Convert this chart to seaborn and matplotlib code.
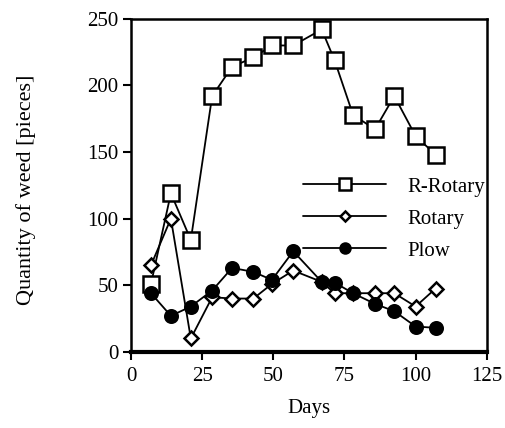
import numpy as np
import pandas as pd
import seaborn as sns
import matplotlib
matplotlib.use("Agg")
import matplotlib.pyplot as plt

# Sampling days and weed counts per tillage method
days = [7, 14, 21, 28.5, 35.5, 43, 49.5, 57, 67, 71.5, 78, 85.7, 92.5, 100, 107]
r_rotary = [51, 119, 84, 192, 214, 221, 230, 230, 242, 219, 178, 167, 192, 162, 148]
rotary = [65, 100, 10, 41, 40, 40, 51, 61, 52.5, 44, 44, 44, 44, 34, 47.5]
plow = [44, 27, 34, 46, 63, 60, 54, 75.5, 52.5, 52, 44, 36, 30.5, 19, 18]

x_ticks = [0, 25, 50, 75, 100, 125]
y_ticks = [0, 50, 100, 150, 200, 250]

sns.set_theme(style="ticks")
plt.rcParams["font.family"] = ["Liberation Serif", "DejaVu Serif"]
plt.rcParams["text.color"] = "black"
plt.rcParams["axes.labelcolor"] = "black"

fig = plt.figure(figsize=(5.06, 4.28), dpi=100)
ax = fig.add_axes([0.259, 0.178, 0.703, 0.778])

df = pd.DataFrame({"day": days, "R-Rotary": r_rotary, "Rotary": rotary, "Plow": plow})

styles = {
    "R-Rotary": dict(marker="s", markersize=11, markerfacecolor="white"),
    "Rotary": dict(marker="D", markersize=7, markerfacecolor="white"),
    "Plow": dict(marker="o", markersize=9, markerfacecolor="black"),
}
for name, st in styles.items():
    sns.lineplot(data=df, x="day", y=name, ax=ax, color="black", linewidth=1.3,
                 markeredgecolor="black", markeredgewidth=1.8, label=name, **st)

ax.set_xlim(0, 125)
ax.set_ylim(0, 250)
ax.set_xticks(x_ticks)
ax.set_yticks(y_ticks)
ax.tick_params(axis="both", direction="out", length=6, width=1.5, labelsize=15,
               colors="black", labelcolor="black")
ax.tick_params(axis="x", pad=5)
ax.tick_params(axis="y", pad=3)
for s in ax.spines.values():
    s.set_linewidth(1.8)
    s.set_color("black")
ax.spines["bottom"].set_linewidth(3)

ax.set_xlabel("Days", fontsize=15, labelpad=9, color="black")
ax.set_ylabel("Quantity of weed [pieces]", fontsize=16, color="black")
ax.yaxis.set_label_coords(-0.266, 0.487)

leg = ax.legend(loc="upper left", bbox_to_anchor=(0.46, 0.55), frameon=False,
                fontsize=15, handlelength=4.0, handletextpad=1.0,
                labelspacing=0.6, borderaxespad=0, markerscale=0.8)
for t in leg.get_texts():
    t.set_color("black")

fig.savefig("out.png", dpi=100)
